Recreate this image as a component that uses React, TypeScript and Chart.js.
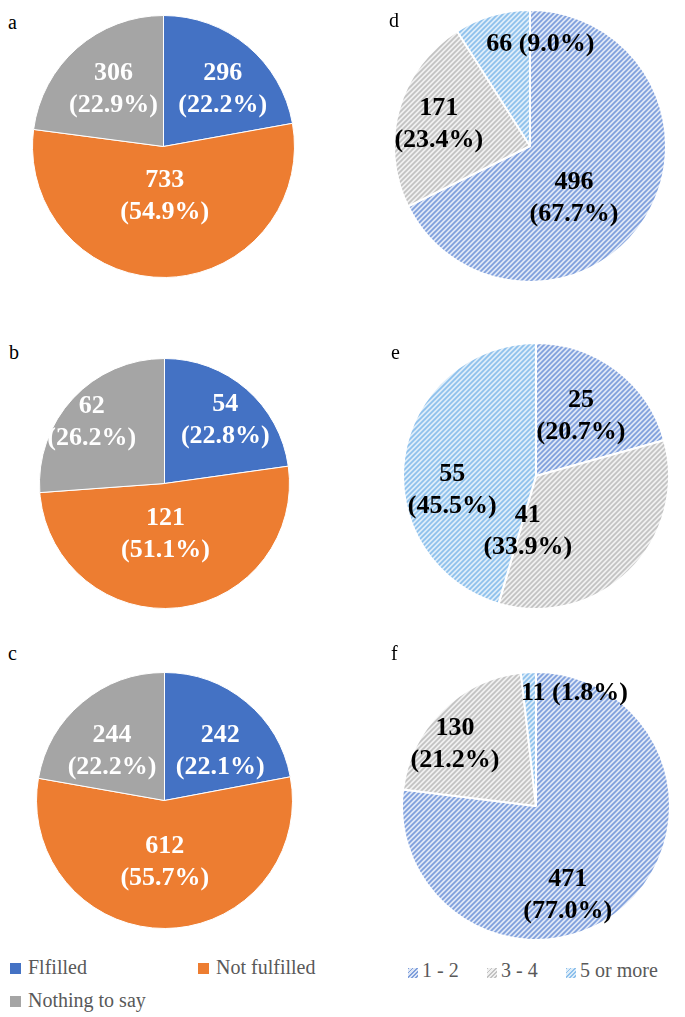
import React, { useEffect, useRef } from "react";
import { Chart, registerables } from "chart.js";

Chart.register(...registerables);

// ---------- data ----------
const leftCategories = ["Flfilled", "Not fulfilled", "Nothing to say"];
const rightCategories = ["1 - 2", "3 - 4", "5 or more"];

const valuesA = [296, 733, 306];
const percentsA = ["22.2%", "54.9%", "22.9%"];
const valuesB = [54, 121, 62];
const percentsB = ["22.8%", "51.1%", "26.2%"];
const valuesC = [242, 612, 244];
const percentsC = ["22.1%", "55.7%", "22.2%"];

const valuesD = [496, 171, 66];
const percentsD = ["67.7%", "23.4%", "9.0%"];
const valuesE = [25, 41, 55];
const percentsE = ["20.7%", "33.9%", "45.5%"];
const valuesF = [471, 130, 11];
const percentsF = ["77.0%", "21.2%", "1.8%"];

// ---------- styles ----------
const SERIF = '"Liberation Serif", "Times New Roman", serif';
const leftColors = ["#4472C4", "#ED7D31", "#A5A5A5"];
const rightPatternSpec = [
  { bg: "#dfe7f6", fg: "#7f9fdc" },
  { bg: "#f0f0f0", fg: "#c2c2c2" },
  { bg: "#deedf9", fg: "#8dc0ec" },
];

function makePattern(bg: string, fg: string) {
  const s = 5;
  const c = document.createElement("canvas");
  c.width = s;
  c.height = s;
  const x = c.getContext("2d")!;
  x.fillStyle = bg;
  x.fillRect(0, 0, s, s);
  x.strokeStyle = fg;
  x.lineWidth = 1.7;
  x.beginPath();
  x.moveTo(-1, s + 1);
  x.lineTo(s + 1, -1);
  x.moveTo(-1, 1);
  x.lineTo(1, -1);
  x.moveTo(s - 1, s + 1);
  x.lineTo(s + 1, s - 1);
  x.stroke();
  const p = document.createElement("canvas").getContext("2d")!.createPattern(c, "repeat");
  return p as CanvasPattern;
}

type Place = [number, number, boolean]; // radial fraction, angle offset (deg), single line

interface Panel {
  letter: string;
  kind: "left" | "right";
  values: number[];
  percents: string[];
  cx: number;
  cy: number;
  r: number;
  letterX: number;
  letterBase: number;
  place: Place[];
}

const panels: Panel[] = [
  { letter: "a", kind: "left", values: valuesA, percents: percentsA, cx: 163, cy: 146, r: 131, letterX: 8, letterBase: 30,
    place: [[0.63, 6, false], [0.38, 0, false], [0.58, 0, false]] },
  { letter: "b", kind: "left", values: valuesB, percents: percentsB, cx: 164, cy: 483, r: 125, letterX: 9, letterBase: 360,
    place: [[0.7, 3, false], [0.41, 5, false], [0.76, -3, false]] },
  { letter: "c", kind: "left", values: valuesC, percents: percentsC, cx: 164, cy: 800, r: 128, letterX: 8, letterBase: 661,
    place: [[0.58, 9, false], [0.48, 0, false], [0.56, -7, false]] },
  { letter: "d", kind: "right", values: valuesD, percents: percentsD, cx: 530, cy: 146, r: 136, letterX: 389, letterBase: 28,
    place: [[0.5, 18, false], [0.69, -2, false], [0.75, 22, true]] },
  { letter: "e", kind: "right", values: valuesE, percents: percentsE, cx: 536, cy: 476, r: 133, letterX: 391, letterBase: 360,
    place: [[0.56, 0, false], [0.42, 53, false], [0.64, -18, false]] },
  { letter: "f", kind: "right", values: valuesF, percents: percentsF, cx: 536, cy: 806, r: 134, letterX: 391, letterBase: 661,
    place: [[0.71, 22, false], [0.76, -8, false], [0.89, 22, true]] },
];

const sliceLabelPlugin = {
  id: "sliceLabels",
  afterDatasetsDraw(chart: any, _args: any, opts: any) {
    const meta = chart.getDatasetMeta(0);
    const ctx = chart.ctx as CanvasRenderingContext2D;
    ctx.save();
    ctx.font = `bold 26px ${SERIF}`;
    ctx.fillStyle = opts.color;
    ctx.textAlign = "center";
    ctx.textBaseline = "middle";
    meta.data.forEach((arc: any, i: number) => {
      const { x, y, startAngle, endAngle, outerRadius } = arc.getProps(
        ["x", "y", "startAngle", "endAngle", "outerRadius"],
        true
      );
      const [f, dAng, one] = opts.place[i] as Place;
      const a = (startAngle + endAngle) / 2 + (dAng * Math.PI) / 180;
      const px = x + Math.cos(a) * outerRadius * f;
      const py = y + Math.sin(a) * outerRadius * f;
      const v = chart.data.datasets[0].data[i];
      const p = opts.percents[i];
      if (one) {
        ctx.fillText(`${v} (${p})`, px, py);
      } else {
        ctx.fillText(String(v), px, py - 16);
        ctx.fillText(`(${p})`, px, py + 16);
      }
    });
    ctx.restore();
  },
};

function PiePanel({ panel }: { panel: Panel }) {
  const ref = useRef<HTMLCanvasElement>(null);
  const bw = panel.kind === "left" ? 1 : 2;
  const size = panel.r * 2 + bw;
  useEffect(() => {
    if (!ref.current) return;
    const colors =
      panel.kind === "left"
        ? leftColors
        : rightPatternSpec.map((s) => makePattern(s.bg, s.fg));
    const chart = new Chart(ref.current, {
      type: "pie",
      data: {
        labels: panel.kind === "left" ? leftCategories : rightCategories,
        datasets: [
          {
            data: panel.values,
            backgroundColor: colors as any,
            borderColor: "#ffffff",
            borderWidth: bw,
          },
        ],
      },
      options: {
        responsive: false,
        animation: false,
        layout: { padding: 0 },
        plugins: {
          legend: { display: false },
          tooltip: { enabled: false },
          sliceLabels: {
            color: panel.kind === "left" ? "#ffffff" : "#000000",
            place: panel.place,
            percents: panel.percents,
          },
        } as any,
      },
      plugins: [sliceLabelPlugin],
    });
    return () => chart.destroy();
  }, []);
  return (
    <>
      <canvas
        ref={ref}
        width={size}
        height={size}
        style={{
          position: "absolute",
          left: panel.cx - size / 2,
          top: panel.cy - size / 2,
          width: size,
          height: size,
        }}
      />
      <div
        style={{
          position: "absolute",
          left: panel.letterX,
          top: panel.letterBase - 18,
          fontFamily: SERIF,
          fontSize: 20,
          lineHeight: "20px",
          color: "#000",
        }}
      >
        {panel.letter}
      </div>
    </>
  );
}

const legendText: React.CSSProperties = {
  position: "absolute",
  fontFamily: SERIF,
  fontSize: 20,
  lineHeight: "20px",
  color: "#595959",
  whiteSpace: "nowrap",
};

function hatchCss(bg: string, fg: string) {
  return `repeating-linear-gradient(135deg, ${fg} 0px, ${fg} 1.2px, ${bg} 1.2px, ${bg} 3px)`;
}

export default function App() {
  useEffect(() => {
    document.body.style.margin = "0";
  }, []);
  const leftLegend = [
    { x: 10, base: 975, sw: 963 },
    { x: 198, base: 975, sw: 963 },
    { x: 10, base: 1008, sw: 996 },
  ];
  const rightLegend = [{ x: 408 }, { x: 487 }, { x: 566 }];
  return (
    <div
      style={{
        position: "absolute",
        left: 0,
        top: 0,
        width: 685,
        height: 1017,
        background: "#ffffff",
        overflow: "hidden",
      }}
    >
      {panels.map((p) => (
        <PiePanel key={p.letter} panel={p} />
      ))}
      {leftCategories.map((c, i) => (
        <React.Fragment key={c}>
          <div
            style={{
              position: "absolute",
              left: leftLegend[i].x,
              top: leftLegend[i].sw,
              width: 11,
              height: 11,
              background: leftColors[i],
            }}
          />
          <div style={{ ...legendText, left: leftLegend[i].x + 18, top: leftLegend[i].base - 18 }}>{c}</div>
        </React.Fragment>
      ))}
      {rightCategories.map((c, i) => (
        <React.Fragment key={c}>
          <div
            style={{
              position: "absolute",
              left: rightLegend[i].x,
              top: 968,
              width: 10,
              height: 10,
              background: hatchCss(rightPatternSpec[i].bg, rightPatternSpec[i].fg),
            }}
          />
          <div style={{ ...legendText, left: rightLegend[i].x + 14, top: 978 - 18 }}>{c}</div>
        </React.Fragment>
      ))}
    </div>
  );
}
